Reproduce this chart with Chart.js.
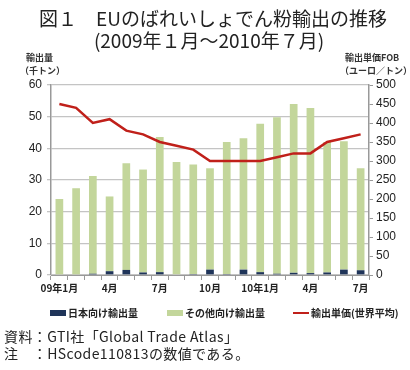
<!DOCTYPE html>
<html><head><meta charset="utf-8">
<script src="https://cdn.jsdelivr.net/npm/chart.js@4"></script>
<style>
html,body{margin:0;padding:0;background:#fff;}
#wrap{position:relative;width:410px;height:370px;overflow:hidden;font-family:"Noto Sans CJK JP","Noto Sans",sans-serif;color:#222;}
#cv{position:absolute;left:0;top:0;}
.t{position:absolute;white-space:nowrap;}
.title{left:0;width:410px;text-align:center;font-size:19px;line-height:21px;color:#222;}
.unit{font-size:9px;font-weight:bold;line-height:12px;color:#333;}
.leg{font-size:10px;font-weight:bold;top:306px;line-height:14px;color:#222;}
.box{position:absolute;width:16px;height:6px;}
.foot{font-size:14px;left:4px;color:#222;line-height:18px;letter-spacing:0.4px;}
</style></head>
<body><div id="wrap">
<canvas id="cv" width="410" height="370"></canvas>
<div class="t title" style="top:7px;left:8px;">図１　EUのばれいしょでん粉輸出の推移</div>
<div class="t title" style="top:29px;left:4px;">(2009年１月～2010年７月)</div>
<div class="t unit" style="left:26px;top:52px;">輸出量</div>
<div class="t unit" style="left:20px;top:65px;">（千トン）</div>
<div class="t unit" style="left:345px;top:52px;">輸出単価FOB</div>
<div class="t unit" style="left:340px;top:65px;">（ユーロ／トン）</div>
<div class="box" style="left:50px;top:310px;background:#1f3459;"></div>
<div class="t leg" style="left:68px;">日本向け輸出量</div>
<div class="box" style="left:167px;top:310px;background:#c3d69b;"></div>
<div class="t leg" style="left:185px;">その他向け輸出量</div>
<div class="box" style="left:293px;top:312px;height:2px;background:#c0201a;"></div>
<div class="t leg" style="left:311px;">輸出単価(世界平均)</div>
<div class="t foot" style="top:327px;">資料：GTI社「Global Trade Atlas」</div>
<div class="t foot" style="top:344px;">注　：HScode110813の数値である。</div>
</div>
<script>
const categories = ["09年1月","","","4月","","","7月","","","10月","","","10年1月","","","4月","","","7月"];
const japanVolume = [0,0,0.4,1.2,1.6,0.8,0.9,0,0.3,1.7,0.3,1.7,0.9,0.4,0.7,0.6,0.8,1.7,1.5];
const otherVolume = [24.0,27.4,30.9,23.6,33.7,32.5,42.7,35.7,34.6,32.0,41.7,41.5,46.9,49.4,53.3,52.1,41.2,40.5,32.2];
const unitPrice = [450,440,400,410,380,370,350,340,330,300,300,300,300,310,320,320,350,360,370];
const leftTicks = [0,10,20,30,40,50,60];
const rightTicks = [0,50,100,150,200,250,300,350,400,450,500];

const tickFont = {family:"Liberation Sans, Arial, sans-serif", size:12};
new Chart(document.getElementById('cv'), {
  data: {
    labels: categories,
    datasets: [
      {type:'line', label:'輸出単価(世界平均)', data:unitPrice, yAxisID:'y2', borderColor:'#c0201a', borderWidth:2.5, pointRadius:0, tension:0, order:0},
      {type:'bar', label:'日本向け輸出量', data:japanVolume, yAxisID:'y', backgroundColor:'#1f3459', stack:'s', barPercentage:0.92, categoryPercentage:0.5, order:1},
      {type:'bar', label:'その他向け輸出量', data:otherVolume, yAxisID:'y', backgroundColor:'#c3d69b', stack:'s', barPercentage:0.92, categoryPercentage:0.5, order:2}
    ]
  },
  options: {
    responsive:false, animation:false,
    layout:{padding:{top:85,left:0,right:0,bottom:75}},
    plugins:{legend:{display:false}, tooltip:{enabled:false}},
    scales:{
      x:{stacked:true, offset:true,
        grid:{offset:true, drawOnChartArea:false, tickLength:5, color:'#999'},
        border:{color:'#999'},
        ticks:{autoSkip:false, maxRotation:0, color:'#222', font:{family:"Noto Sans CJK JP", size:10, weight:'bold'}, padding:2},
        afterFit:(s)=>{s.height=20;}
      },
      y:{stacked:true, position:'left', min:0, max:60,
        afterBuildTicks:(s)=>{s.ticks=leftTicks.map(v=>({value:v}));},
        grid:{color:'#c4c4c4', lineWidth:1.3, tickLength:4},
        border:{color:'#999', width:1.5},
        ticks:{color:'#222', font:tickFont, padding:5},
        afterFit:(s)=>{s.width=51;}
      },
      y2:{position:'right', min:0, max:500,
        afterBuildTicks:(s)=>{s.ticks=rightTicks.map(v=>({value:v}));},
        grid:{drawOnChartArea:false, tickLength:4, color:'#999'},
        border:{color:'#999', width:1.5},
        ticks:{color:'#222', font:tickFont, padding:3},
        afterFit:(s)=>{s.width=41;}
      }
    }
  }
});
</script>
</body></html>
